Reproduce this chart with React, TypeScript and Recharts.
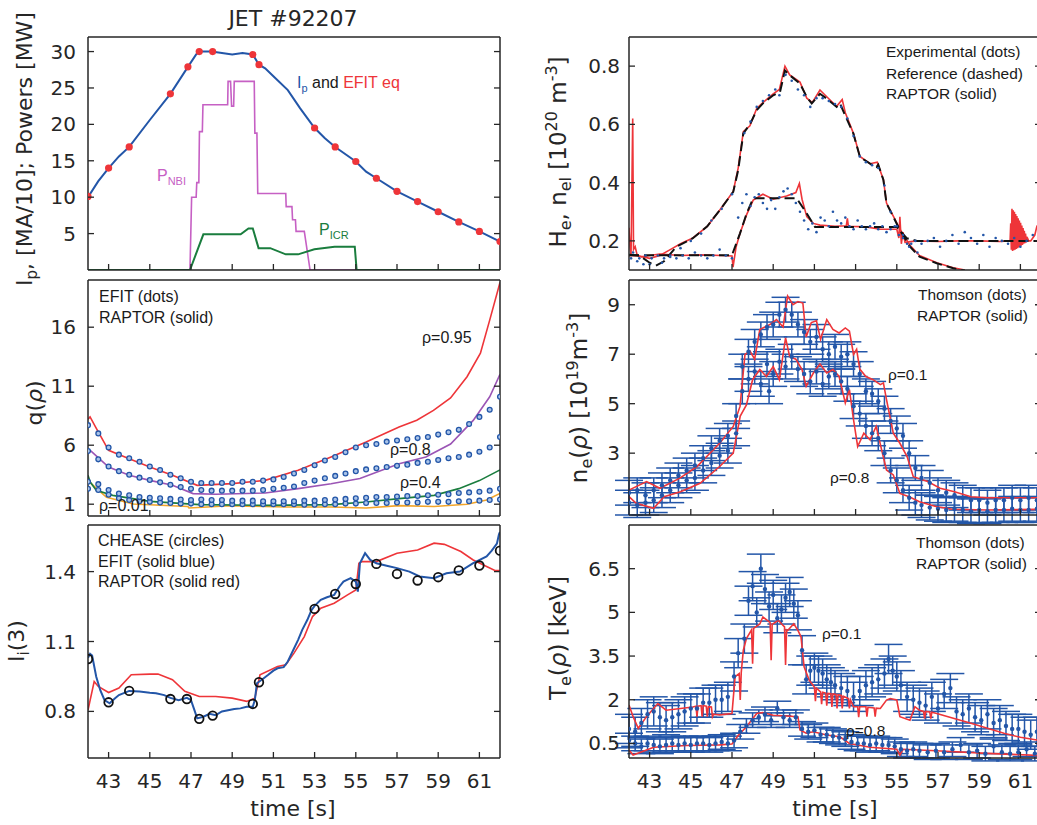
import React from 'react';
import { ComposedChart, Line, Scatter, XAxis, YAxis, ErrorBar } from 'recharts';

type P = [number, number];

const X_TICKS = [43, 45, 47, 49, 51, 53, 55, 57, 59, 61];
const T_RANGE: [number, number] = [42, 62];

const BLUE = '#2356a8';
const RED = '#ee3539';
const MAGENTA = '#c660c4';
const GREEN = '#1a7d3e';
const PURPLE = '#9b55b5';
const ORANGE = '#f2a52a';
const INK = '#262626';

// ---- Ip and powers
const IP_TICKS = [5, 10, 15, 20, 25, 30];
const IP: P[] = [[42, 10], [42.5, 12.2], [43, 14], [43.5, 15.6], [44, 16.9], [45, 20.6], [46, 24.2], [46.85, 27.9], [47.25, 29.6], [47.4, 30], [48, 30], [48.5, 29.8], [49, 29.6], [49.5, 29.8], [50, 29.6], [50.3, 28.2], [50.6, 27.7], [51, 26.6], [51.7, 24.7], [52.3, 22.2], [53, 19.5], [53.5, 18.1], [54, 16.9], [55, 14.9], [55.5, 13.5], [56, 12.6], [57, 10.8], [58, 9.4], [59, 8.0], [60, 6.6], [61, 5.3], [62, 3.9]];
const IP_EFIT: P[] = [[42, 10.1], [43, 14], [44, 16.9], [46, 24.2], [46.85, 27.9], [47.4, 30], [48.05, 30], [50, 29.6], [50.3, 28.2], [53, 19.5], [54, 16.9], [55, 14.9], [56, 12.6], [57, 10.8], [58, 9.4], [59, 8.0], [60, 6.6], [61, 5.3], [62, 3.9]];
const P_NBI: P[] = [[42, 0], [46.95, 0], [47.03, 10], [47.25, 10], [47.28, 12], [47.38, 12], [47.41, 19], [47.55, 19], [47.58, 22.7], [48.78, 22.7], [48.8, 25.9], [48.92, 25.9], [48.97, 22.5], [49.07, 22.5], [49.1, 25.9], [50.07, 25.9], [50.1, 18.8], [50.2, 18.8], [50.24, 10.5], [51.6, 10.5], [51.62, 8.7], [51.9, 8.7], [51.93, 6.9], [52.07, 6.9], [52.1, 5.3], [52.5, 5.3], [52.78, 0], [62, 0]];
const P_ICR: P[] = [[42, 0], [46.95, 0], [47.6, 4.9], [49.41, 4.9], [49.79, 5.7], [50.0, 5.7], [50.28, 3.0], [50.85, 3.0], [51.6, 2.15], [52.2, 2.15], [52.99, 2.84], [53.97, 3.2], [54.95, 3.2], [55.04, 0], [62, 0]];

// ---- q profiles
const Q_TICKS = [1, 6, 11, 16];
const Q95: P[] = [[42, 8.2], [42.1, 8.4], [42.37, 7.54], [43, 5.57], [44, 4.86], [45, 4.15], [46.1, 3.45], [47.3, 2.6], [49, 2.74], [50.6, 3.02], [52.2, 3.87], [53.8, 5.0], [55.5, 6.27], [57.1, 7.54], [57.96, 8.11], [58.77, 8.95], [59.6, 10.0], [60.4, 11.8], [61.05, 13.8], [61.5, 16.6], [62, 19.8]];
const Q80: P[] = [[42, 5.43], [42.15, 5.5], [42.4, 5.1], [43, 4.15], [44, 3.45], [45, 3.02], [46.1, 2.6], [47.1, 1.9], [48.2, 1.84], [50.6, 1.95], [52.2, 2.32], [53.8, 2.74], [55.2, 3.17], [57.1, 4.43], [58.4, 5.0], [59.6, 6.1], [60.7, 8.1], [61.5, 10.1], [62, 12.0]];
const Q40: P[] = [[42, 3.45], [42.1, 2.9], [42.4, 2.18], [43.2, 1.75], [45, 1.24], [47.4, 0.96], [50.6, 0.9], [53.8, 0.96], [55.5, 1.19], [57.1, 1.47], [58.8, 1.75], [60, 2.32], [61, 3.0], [62, 3.91]];
const Q01: P[] = [[42, 3.0], [42.37, 2.4], [42.9, 1.58], [44.2, 1.02], [46.85, 0.8], [46.9, 0.68], [48.9, 0.87], [51.6, 0.76], [53.8, 0.76], [55.5, 0.68], [57.1, 0.88], [58.8, 0.8], [60.4, 1.0], [61.35, 1.36], [62, 1.92]];
const Q_EFIT_T = [42, 42.5, 43, 43.5, 44, 44.5, 45, 45.5, 46, 46.5, 47, 47.5, 48, 48.5, 49, 49.5, 50, 50.5, 51, 51.5, 52, 52.5, 53, 53.5, 54, 54.5, 55, 55.5, 56, 56.5, 57, 57.5, 58, 58.5, 59, 59.5, 60, 60.5, 61, 61.5, 62];
const Q_EFIT_A = [7.7, 7.0, 5.8, 5.2, 4.9, 4.6, 4.2, 3.9, 3.5, 3.2, 2.9, 2.8, 2.8, 2.8, 2.8, 2.9, 2.9, 3.0, 3.1, 3.3, 3.6, 3.9, 4.3, 4.7, 5.0, 5.4, 5.8, 6.0, 6.1, 6.3, 6.4, 6.5, 6.6, 6.7, 6.9, 7.1, 7.3, 7.8, 8.4, 9.0, 10.1];
const Q_EFIT_B = [5.5, 4.8, 4.2, 3.8, 3.5, 3.25, 3.05, 2.85, 2.65, 2.45, 2.3, 2.2, 2.15, 2.15, 2.15, 2.15, 2.15, 2.2, 2.3, 2.4, 2.5, 2.8, 3.0, 3.2, 3.4, 3.6, 3.8, 3.95, 4.05, 4.15, 4.25, 4.35, 4.5, 4.6, 4.75, 4.9, 5.0, 5.2, 5.45, 5.8, 6.7];
const Q_EFIT_C = [2.9, 2.7, 2.2, 1.9, 1.75, 1.6, 1.55, 1.5, 1.45, 1.4, 1.35, 1.4, 1.35, 1.35, 1.3, 1.3, 1.3, 1.25, 1.25, 1.25, 1.25, 1.3, 1.3, 1.35, 1.4, 1.45, 1.5, 1.55, 1.6, 1.6, 1.65, 1.7, 1.7, 1.75, 1.8, 1.85, 1.95, 2.0, 2.05, 2.15, 2.3];
const Q_EFIT_D = [2.3, 2.2, 1.8, 1.5, 1.35, 1.25, 1.2, 1.15, 1.1, 1.05, 1.05, 1.0, 1.0, 1.0, 1.0, 1.0, 1.0, 1.0, 1.0, 1.0, 1.0, 0.95, 0.95, 1.0, 1.0, 1.05, 1.05, 1.1, 1.1, 1.1, 1.15, 1.15, 1.15, 1.2, 1.2, 1.2, 1.25, 1.25, 1.3, 1.35, 1.4];

// ---- internal inductance
const LI_TICKS = [0.8, 1.1, 1.4];
const LI_CHEASE: P[] = [[42, 1.025], [43, 0.839], [44, 0.888], [46, 0.853], [46.8, 0.853], [47.4, 0.768], [48.05, 0.782], [50, 0.832], [50.3, 0.925], [53, 1.24], [54, 1.304], [55, 1.347], [56, 1.433], [57, 1.39], [58, 1.362], [59, 1.376], [60, 1.405], [61, 1.426], [62, 1.49]];
const LI_EFIT: P[] = [[42, 1.03], [42.1, 1.047], [42.2, 1.04], [42.4, 0.949], [42.6, 0.89], [42.8, 0.849], [43.05, 0.835], [43.3, 0.855], [43.5, 0.87], [44, 0.888], [44.5, 0.885], [45, 0.88], [45.3, 0.878], [45.7, 0.87], [46, 0.858], [46.4, 0.848], [46.8, 0.858], [47, 0.848], [47.15, 0.81], [47.3, 0.77], [47.6, 0.777], [47.9, 0.79], [48.2, 0.784], [48.5, 0.8], [48.8, 0.805], [49.1, 0.81], [49.4, 0.813], [49.7, 0.82], [50, 0.82], [50.1, 0.85], [50.2, 0.921], [50.5, 0.94], [50.75, 0.957], [51.0, 0.975], [51.2, 0.985], [51.5, 0.99], [51.7, 1.014], [52.0, 1.07], [52.2, 1.107], [52.4, 1.15], [52.65, 1.193], [52.85, 1.235], [53.0, 1.253], [53.3, 1.279], [53.6, 1.29], [53.95, 1.3], [54.2, 1.335], [54.4, 1.357], [54.75, 1.372], [55.0, 1.357], [55.1, 1.314], [55.2, 1.436], [55.45, 1.479], [55.7, 1.45], [56.0, 1.436], [56.5, 1.425], [57, 1.415], [57.6, 1.4], [58.1, 1.379], [58.8, 1.372], [59.4, 1.393], [60.05, 1.4], [60.7, 1.436], [61.35, 1.465], [61.6, 1.49], [61.85, 1.52], [61.95, 1.56], [62, 1.57]];
const LI_RAPTOR: P[] = [[42, 0.806], [42.3, 0.928], [42.5, 0.907], [43, 0.881], [43.5, 0.9], [44.1, 0.957], [45, 0.96], [45.4, 0.96], [46.1, 0.936], [46.7, 0.886], [47.4, 0.864], [48.2, 0.864], [49, 0.857], [49.7, 0.843], [50.1, 0.857], [50.35, 0.957], [51.2, 0.993], [51.6, 1.0], [52, 1.05], [52.5, 1.121], [52.9, 1.207], [53.3, 1.243], [53.95, 1.264], [54.6, 1.3], [55, 1.321], [55.15, 1.436], [55.3, 1.443], [56.0, 1.443], [57, 1.479], [58, 1.493], [58.8, 1.522], [59.3, 1.517], [60.1, 1.486], [60.7, 1.45], [61.35, 1.422], [61.75, 1.405], [62, 1.405]];

// ---- line densities
const NEL_TICKS = [0.2, 0.4, 0.6, 0.8];
const NEL_REF: P[] = [[42, 0.152], [42.5, 0.15], [43, 0.125], [43.3, 0.115], [43.7, 0.13], [44.3, 0.18], [45.1, 0.209], [45.8, 0.25], [46.4, 0.305], [47.06, 0.368], [47.3, 0.443], [47.55, 0.569], [47.87, 0.6], [48.2, 0.649], [48.5, 0.672], [49.0, 0.7], [49.33, 0.711], [49.57, 0.785], [49.82, 0.768], [50.3, 0.74], [50.63, 0.694], [50.87, 0.672], [51.27, 0.705], [51.6, 0.688], [52.08, 0.66], [52.24, 0.672], [52.49, 0.631], [52.89, 0.569], [53.21, 0.488], [53.7, 0.465], [54.02, 0.454], [54.1, 0.462], [54.35, 0.409], [54.5, 0.329], [54.83, 0.283], [55.15, 0.237], [55.64, 0.18], [56.1, 0.146], [56.94, 0.123], [57.74, 0.106], [58.3, 0.098]];
const NEL_RAPTOR: P[] = [[42, 0.15], [42.5, 0.148], [43, 0.14], [43.5, 0.15], [44, 0.17], [44.5, 0.19], [45.1, 0.21], [45.8, 0.25], [46.4, 0.305], [47.06, 0.37], [47.3, 0.45], [47.55, 0.575], [47.87, 0.595], [48.2, 0.655], [48.5, 0.675], [49.0, 0.705], [49.3, 0.72], [49.57, 0.8], [49.8, 0.77], [50.3, 0.745], [50.63, 0.69], [50.9, 0.675], [51.27, 0.718], [51.6, 0.695], [52.08, 0.662], [52.35, 0.685], [52.5, 0.64], [52.89, 0.57], [53.21, 0.49], [53.7, 0.465], [54.05, 0.47], [54.35, 0.41], [54.5, 0.33], [54.83, 0.285], [55.15, 0.24], [55.64, 0.185], [56.1, 0.15], [56.94, 0.125], [57.74, 0.108], [58.3, 0.1]];
const HE_REF: P[] = [[42, 0.151], [47.0, 0.151], [47.39, 0.226], [47.71, 0.294], [48.03, 0.346], [50.14, 0.346], [50.63, 0.294], [51.03, 0.248], [55.0, 0.248], [55.48, 0.209], [55.97, 0.2], [62, 0.2]];
const HE_RAPTOR: P[] = [[42, 0.245], [42.05, 0.18], [42.1, 0.15], [42.18, 0.62], [42.22, 0.17], [42.3, 0.18], [42.4, 0.15], [42.6, 0.145], [43, 0.15], [43.5, 0.155], [44.5, 0.15], [45.5, 0.152], [46.5, 0.15], [47.0, 0.148], [47.05, 0.11], [47.2, 0.18], [47.39, 0.226], [47.71, 0.29], [48.03, 0.34], [48.5, 0.36], [49.0, 0.343], [49.65, 0.354], [50.1, 0.366], [50.27, 0.397], [50.4, 0.343], [50.63, 0.283], [50.95, 0.26], [51.27, 0.254], [52.0, 0.25], [52.55, 0.252], [52.6, 0.277], [52.65, 0.25], [53.5, 0.248], [54.2, 0.24], [55.0, 0.24], [55.1, 0.21], [55.15, 0.283], [55.22, 0.19], [55.3, 0.23], [55.4, 0.195], [55.97, 0.2], [57, 0.198], [58, 0.2], [59, 0.2], [60, 0.198], [60.45, 0.2], [60.5, 0.2], [60.53, 0.26], [60.56, 0.17], [60.59, 0.31], [60.62, 0.165], [60.65, 0.305], [60.68, 0.168], [60.71, 0.3], [60.74, 0.17], [60.77, 0.292], [60.8, 0.172], [60.83, 0.285], [60.86, 0.175], [60.89, 0.278], [60.92, 0.177], [60.95, 0.27], [60.98, 0.18], [61.01, 0.262], [61.04, 0.183], [61.07, 0.253], [61.1, 0.186], [61.13, 0.244], [61.16, 0.19], [61.19, 0.235], [61.22, 0.192], [61.25, 0.225], [61.28, 0.195], [61.31, 0.215], [61.34, 0.198], [61.37, 0.205], [61.4, 0.2], [61.5, 0.2], [61.7, 0.22], [61.8, 0.25], [62, 0.27]];
const NEL_DOTS: P[] = [[42.1, 0.14], [42.4, 0.13], [42.7, 0.12], [43.0, 0.12], [43.6, 0.125], [44.0, 0.15], [44.5, 0.175], [45.0, 0.2], [45.5, 0.225], [46.0, 0.27], [46.5, 0.31], [47.0, 0.36], [47.6, 0.57], [47.9, 0.61], [48.2, 0.66], [48.5, 0.68], [48.8, 0.7], [49.1, 0.72], [49.3, 0.7], [49.6, 0.77], [49.9, 0.75], [50.2, 0.72], [50.5, 0.7], [50.8, 0.66], [51.1, 0.69], [51.4, 0.69], [51.7, 0.68], [52.0, 0.67], [52.3, 0.66], [52.6, 0.62], [52.9, 0.56], [53.2, 0.49], [53.5, 0.47], [53.8, 0.46], [54.1, 0.45], [54.4, 0.39], [54.7, 0.3], [55.0, 0.25], [55.3, 0.22], [55.6, 0.18], [56.0, 0.16]];
const HE_DOTS: P[] = [[42.2, 0.16], [42.5, 0.14], [42.8, 0.15], [43.1, 0.14], [43.4, 0.15], [43.7, 0.14], [44.0, 0.145], [44.3, 0.14], [44.6, 0.15], [44.9, 0.14], [45.2, 0.16], [45.5, 0.15], [45.8, 0.14], [46.1, 0.15], [46.4, 0.17], [46.7, 0.15], [47.0, 0.14], [47.3, 0.28], [47.5, 0.33], [47.7, 0.36], [47.9, 0.32], [48.1, 0.35], [48.3, 0.36], [48.5, 0.33], [48.7, 0.31], [48.9, 0.34], [49.1, 0.31], [49.3, 0.35], [49.5, 0.37], [49.7, 0.38], [49.9, 0.36], [50.1, 0.33], [50.3, 0.3], [50.5, 0.27], [50.7, 0.24], [50.9, 0.26], [51.1, 0.23], [51.3, 0.28], [51.5, 0.27], [51.7, 0.25], [51.9, 0.3], [52.1, 0.27], [52.3, 0.26], [52.5, 0.28], [52.7, 0.25], [52.9, 0.24], [53.1, 0.27], [53.3, 0.25], [53.5, 0.24], [53.7, 0.25], [53.9, 0.26], [54.1, 0.24], [54.3, 0.25], [54.5, 0.23], [54.7, 0.24], [54.9, 0.25], [55.1, 0.22], [55.3, 0.21], [55.5, 0.19], [55.7, 0.19], [55.9, 0.2], [56.2, 0.19], [56.5, 0.2], [56.8, 0.21], [57.1, 0.18], [57.4, 0.2], [57.7, 0.22], [58.0, 0.19], [58.3, 0.23], [58.6, 0.21], [58.9, 0.19], [59.2, 0.22], [59.5, 0.18], [59.8, 0.21], [60.1, 0.2], [60.4, 0.19], [60.7, 0.21], [61.0, 0.18], [61.3, 0.2], [61.6, 0.22], [61.9, 0.19]];

// ---- ne profiles
const NE_TICKS = [3, 5, 7, 9];
const NE_ERR = 0.5;
const NE_RAPTOR_01: P[] = [[42, 1.51], [42.85, 1.85], [43.5, 1.58], [44.47, 1.99], [45.3, 2.46], [46.4, 3.4], [47.06, 4.08], [47.39, 4.89], [47.63, 6.99], [47.87, 7.13], [48.1, 6.8], [48.35, 8.0], [48.84, 8.2], [49.16, 8.4], [49.48, 8.1], [49.7, 9.35], [49.96, 9.0], [50.2, 9.13], [50.44, 9.07], [50.6, 7.7], [50.85, 8.28], [51.1, 8.35], [51.3, 7.6], [51.6, 8.4], [51.9, 8.0], [52.2, 7.86], [52.5, 8.06], [52.7, 7.93], [52.9, 6.99], [53.05, 7.2], [53.2, 6.4], [53.5, 6.1], [53.85, 5.97], [54.2, 5.77], [54.35, 5.84], [54.5, 5.16], [54.83, 3.81], [55.15, 3.4], [55.5, 2.86], [55.8, 2.05], [56.5, 1.85], [57.1, 1.58], [57.8, 1.44], [58.6, 1.24], [59.4, 1.2], [62, 1.2]];
const NE_RAPTOR_08: P[] = [[42, 1.24], [42.35, 0.97], [43.2, 0.77], [43.7, 1.24], [44.5, 1.44], [45.45, 1.78], [46.4, 2.46], [47.06, 3.0], [47.4, 4.5], [47.7, 4.95], [48.0, 5.97], [48.35, 6.38], [48.67, 6.1], [49.0, 6.5], [49.3, 5.97], [49.6, 7.66], [49.8, 6.9], [50.1, 6.8], [50.4, 6.38], [50.6, 5.7], [50.95, 6.24], [51.27, 6.6], [51.6, 6.24], [51.9, 6.38], [52.2, 6.1], [52.5, 5.03], [52.7, 5.57], [52.9, 4.35], [53.1, 3.27], [53.4, 3.81], [53.7, 3.54], [54.0, 4.08], [54.3, 3.0], [54.5, 2.32], [54.83, 2.12], [55.15, 1.37], [55.6, 1.24], [56.1, 1.04], [56.9, 0.84], [57.7, 0.73], [59.4, 0.7], [62, 0.73]];
const NE_THOMSON_01: P[] = [[42.0, 1.4], [42.4, 1.5], [42.8, 1.3], [43.2, 1.5], [43.6, 1.7], [44.0, 1.9], [44.4, 2.1], [44.8, 2.3], [45.2, 2.5], [45.6, 2.8], [46.0, 3.2], [46.4, 3.5], [46.8, 3.7], [47.2, 4.5], [47.5, 6.5], [47.8, 7.1], [48.1, 7.5], [48.4, 7.8], [48.7, 8.1], [49.0, 8.2], [49.3, 8.6], [49.6, 8.8], [49.9, 8.6], [50.2, 8.2], [50.5, 7.9], [50.8, 7.5], [51.1, 7.7], [51.4, 7.2], [51.7, 7.0], [52.0, 7.3], [52.3, 6.9], [52.6, 7.0], [52.9, 6.6], [53.2, 6.2], [53.5, 5.5], [53.8, 5.4], [54.1, 5.1], [54.4, 4.8], [54.7, 4.3], [55.0, 4.0], [55.3, 3.7], [55.6, 3.0], [55.9, 2.4], [56.2, 2.0], [56.6, 1.8], [57.0, 1.5], [57.4, 1.4], [57.8, 1.3], [58.2, 1.2], [58.6, 1.1], [59.0, 1.1], [59.4, 1.0], [59.8, 1.1], [60.2, 1.1], [60.6, 1.2], [61.0, 1.1], [61.4, 1.2], [61.8, 1.1]];
const NE_THOMSON_08: P[] = [[42.0, 1.0], [42.4, 0.9], [42.8, 1.0], [43.2, 1.1], [43.6, 1.3], [44.0, 1.5], [44.4, 1.7], [44.8, 1.9], [45.2, 2.0], [45.6, 2.3], [46.0, 2.6], [46.4, 2.9], [46.8, 3.1], [47.2, 3.8], [47.5, 5.5], [47.8, 6.0], [48.1, 6.3], [48.4, 5.8], [48.7, 6.6], [48.8, 5.5], [49.0, 6.2], [49.3, 6.7], [49.6, 6.5], [49.9, 6.9], [50.2, 6.4], [50.5, 6.2], [50.8, 5.9], [51.1, 6.3], [51.4, 5.8], [51.7, 6.1], [52.0, 6.2], [52.3, 5.9], [52.6, 5.6], [52.9, 4.9], [53.2, 4.6], [53.5, 4.1], [53.8, 3.8], [54.1, 3.6], [54.4, 3.0], [54.7, 2.3], [55.0, 1.9], [55.3, 1.5], [55.6, 1.2], [55.9, 1.0], [56.2, 0.9], [56.6, 0.8], [57.0, 0.75], [57.4, 0.7], [57.8, 0.75], [58.2, 0.7], [58.6, 0.65], [59.0, 0.7], [59.4, 0.65], [59.8, 0.7], [60.2, 0.7], [60.6, 0.75], [61.0, 0.7], [61.4, 0.7], [61.8, 0.75]];

// ---- Te profiles
const TE_TICKS = [0.5, 2, 3.5, 5, 6.5];
const TE_ERR_01 = 0.5;
const TE_ERR_08 = 0.25;
const TE_RAPTOR_01: P[] = [[42, 1.82], [42.2, 1.42], [42.45, 1.02], [42.85, 1.42], [43.4, 1.87], [43.8, 1.64], [44.5, 1.7], [45.1, 1.75], [45.25, 1.78], [45.3, 1.42], [45.35, 1.78], [45.5, 1.8], [45.55, 1.42], [45.6, 1.8], [45.75, 1.78], [45.8, 1.42], [45.85, 1.76], [46.0, 1.75], [46.05, 1.42], [46.1, 1.5], [46.4, 1.48], [47.0, 1.53], [47.15, 2.79], [47.35, 2.9], [47.4, 1.99], [47.45, 2.95], [47.55, 3.7], [47.7, 4.1], [47.95, 4.4], [48.0, 3.24], [48.05, 4.45], [48.35, 4.6], [48.5, 4.84], [48.7, 4.73], [48.85, 4.65], [48.9, 3.36], [48.95, 4.6], [49.0, 4.61], [49.25, 4.73], [49.4, 4.61], [49.55, 4.5], [49.6, 3.19], [49.65, 4.4], [49.7, 4.38], [50.0, 4.61], [50.2, 4.38], [50.35, 4.16], [50.5, 3.13], [50.75, 2.67], [51.0, 2.44], [51.05, 1.95], [51.1, 2.4], [51.3, 2.27], [51.35, 1.85], [51.4, 2.26], [51.55, 2.23], [51.6, 1.8], [51.65, 2.22], [51.8, 2.21], [51.85, 1.75], [51.9, 2.2], [52.05, 2.18], [52.1, 1.7], [52.15, 2.17], [52.3, 2.15], [52.35, 1.7], [52.4, 2.12], [52.65, 2.04], [52.7, 1.7], [52.75, 2.0], [52.9, 1.76], [53.1, 1.76], [53.15, 1.4], [53.2, 1.76], [53.5, 1.76], [53.55, 1.42], [53.6, 1.74], [53.9, 1.72], [53.95, 1.42], [54.0, 1.71], [54.2, 1.7], [54.5, 1.99], [54.68, 2.04], [55.0, 1.99], [55.15, 1.42], [55.64, 1.3], [55.88, 1.76], [56.1, 1.64], [56.3, 1.6], [56.35, 1.35], [56.4, 1.6], [56.6, 1.58], [56.65, 1.35], [56.7, 1.57], [56.94, 1.53], [57.7, 1.37], [58.6, 1.19], [59.4, 1.02], [60.2, 0.85], [61.0, 0.71], [61.8, 0.62], [62, 0.6]];
const TE_RAPTOR_08: P[] = [[42, 0.27], [42.2, 0.1], [43.2, 0.37], [44.8, 0.43], [46.4, 0.45], [47.0, 0.48], [47.3, 0.77], [47.7, 1.07], [48.2, 1.53], [48.5, 1.56], [49.0, 1.47], [49.65, 1.44], [50.2, 1.42], [50.3, 0.96], [50.6, 0.85], [50.95, 0.9], [51.6, 0.79], [52.24, 0.73], [52.7, 0.5], [53.7, 0.37], [55.0, 0.3], [55.15, 0.1], [55.3, 0.3], [56.9, 0.25], [59.4, 0.16], [61.8, 0.09], [62, 0.09]];
const TE_THOMSON_01: P[] = [[42.0, 1.0], [42.3, 0.9], [42.6, 1.2], [42.9, 1.5], [43.2, 1.6], [43.5, 1.4], [43.8, 1.3], [44.1, 1.4], [44.4, 1.5], [44.7, 1.6], [45.0, 1.7], [45.3, 1.7], [45.6, 1.9], [45.9, 1.9], [46.2, 2.0], [46.5, 2.0], [46.8, 2.1], [47.1, 2.8], [47.3, 3.6], [47.6, 4.1], [47.8, 5.4], [48.0, 5.9], [48.2, 5.0], [48.4, 6.5], [48.6, 5.8], [48.8, 5.2], [49.0, 5.6], [49.2, 4.8], [49.4, 5.1], [49.6, 5.5], [49.8, 5.7], [50.0, 5.3], [50.2, 4.9], [50.4, 3.7], [50.6, 2.7], [50.8, 3.0], [51.0, 3.1], [51.2, 3.0], [51.4, 2.9], [51.6, 2.7], [51.8, 2.6], [52.0, 2.5], [52.3, 2.4], [52.6, 2.3], [52.9, 2.1], [53.2, 2.3], [53.5, 2.5], [53.8, 2.6], [54.1, 2.7], [54.4, 2.9], [54.6, 3.4], [54.8, 3.0], [55.0, 2.8], [55.2, 2.5], [55.5, 2.1], [55.8, 2.0], [56.1, 1.9], [56.4, 1.8], [56.7, 2.1], [57.0, 1.7], [57.3, 2.2], [57.6, 2.4], [57.9, 1.6], [58.2, 1.5], [58.5, 1.7], [58.8, 1.4], [59.1, 1.3], [59.4, 1.5], [59.7, 1.2], [60.0, 1.3], [60.3, 1.1], [60.6, 1.0], [60.9, 1.0], [61.2, 0.9], [61.5, 0.8], [61.8, 0.9]];
const TE_THOMSON_08: P[] = [[42.0, 0.6], [42.3, 0.5], [42.6, 0.4], [42.9, 0.5], [43.2, 0.45], [43.5, 0.4], [43.8, 0.45], [44.1, 0.5], [44.4, 0.45], [44.7, 0.5], [45.0, 0.45], [45.3, 0.5], [45.6, 0.5], [45.9, 0.45], [46.2, 0.5], [46.5, 0.55], [46.8, 0.5], [47.1, 0.6], [47.4, 0.9], [47.7, 1.1], [48.0, 1.3], [48.3, 1.4], [48.6, 1.5], [48.9, 1.3], [49.2, 1.7], [49.5, 1.4], [49.8, 1.3], [50.1, 1.4], [50.4, 1.0], [50.7, 0.9], [51.0, 0.95], [51.3, 0.8], [51.6, 0.8], [51.9, 0.75], [52.2, 0.7], [52.5, 0.65], [52.8, 0.55], [53.1, 0.5], [53.4, 0.5], [53.7, 0.45], [54.0, 0.5], [54.3, 0.45], [54.6, 0.45], [54.9, 0.4], [55.2, 0.3], [55.5, 0.25], [55.8, 0.3], [56.1, 0.25], [56.5, 0.2], [56.9, 0.25], [57.3, 0.2], [57.7, 0.3], [58.1, 0.45], [58.5, 0.2], [58.9, 0.25], [59.3, 0.15], [59.7, 0.4], [60.1, 0.2], [60.5, 0.15], [60.9, 0.2], [61.3, 0.3], [61.7, 0.15]];

const rows = (pts: P[]) => pts.map(([t, v]) => ({ t, v }));
const rowsErr = (pts: P[], e: number) => pts.map(([t, v]) => ({ t, v, e }));
const zipRows = (ts: number[], vs: number[]) => ts.map((t, i) => ({ t, v: vs[i] }));

const AXIS = { stroke: INK, strokeWidth: 1.5 };
const PLOT_W = 412;
const TICK_LEN = 6;
const TICK_FONT = { fontSize: 20, fontFamily: 'DejaVu Sans', fill: INK };

// axis ticks point into the plot, so each tick draws its own short line plus (optionally) the label
type Side = 'top' | 'bottom' | 'left' | 'right';
const tickMark = (side: Side, withLabel: boolean, gap = 12) => (p: any) => {
  const { x, y } = p;
  const value = p.payload.value;
  if (side === 'top' || side === 'bottom') {
    const d = side === 'bottom' ? -TICK_LEN : TICK_LEN;
    return (
      <g>
        <line x1={x} x2={x} y1={y} y2={y + d} stroke={INK} strokeWidth={1.3} />
        {withLabel && <text x={x} y={y + 30} textAnchor="middle" {...TICK_FONT}>{value}</text>}
      </g>
    );
  }
  const d = side === 'left' ? TICK_LEN : -TICK_LEN;
  return (
    <g>
      <line x1={x} x2={x + d} y1={y} y2={y} stroke={INK} strokeWidth={1.3} />
      {withLabel && <text x={x - gap} y={y + 7} textAnchor="end" {...TICK_FONT}>{value}</text>}
    </g>
  );
};

type PanelProps = {
  left: number;
  top: number;
  h: number;
  yDomain: [number, number];
  yTicks: number[];
  yGap: number;
  xLabels?: boolean;
  children: React.ReactNode;
};

function Panel({ left, top, h, yDomain, yTicks, yGap, xLabels, children }: PanelProps) {
  return (
    <div style={{ position: 'absolute', left: left - 110, top: top - 10 }}>
      <ComposedChart width={PLOT_W + 130} height={h + 60} margin={{ top: 9, right: 19, bottom: 10, left: 50 }}>
        <XAxis dataKey="t" type="number" domain={T_RANGE} ticks={X_TICKS} interval={0} allowDataOverflow
          height={40} tickSize={0} tickMargin={0} axisLine={AXIS} tickLine={false}
          tick={tickMark('bottom', !!xLabels)} />
        <XAxis xAxisId="top" orientation="top" type="number" domain={T_RANGE} ticks={X_TICKS} interval={0}
          allowDataOverflow height={1} tickSize={0} tickMargin={0} axisLine={AXIS} tickLine={false}
          tick={tickMark('top', false)} />
        <YAxis dataKey="v" type="number" domain={yDomain} ticks={yTicks} interval={0} allowDataOverflow
          width={60} tickSize={0} tickMargin={0} axisLine={AXIS} tickLine={false} tick={tickMark('left', true, yGap)} />
        <YAxis yAxisId="r" orientation="right" type="number" domain={yDomain} ticks={yTicks} interval={0}
          allowDataOverflow width={1} tickSize={0} tickMargin={0} axisLine={AXIS} tickLine={false}
          tick={tickMark('right', false)} />
        {children}
      </ComposedChart>
    </div>
  );
}

const dot = (r: number, fill: string, stroke = 'none', sw = 0) => (p: any) =>
  <circle cx={p.cx} cy={p.cy} r={r} fill={fill} stroke={stroke} strokeWidth={sw} />;

const line = (pts: P[], color: string, width = 1.6, dash?: string) => (
  <Line data={rows(pts)} dataKey="v" stroke={color} strokeWidth={width} strokeDasharray={dash} dot={false}
    isAnimationActive={false} />
);

const SANS = 'Liberation Sans';
const LABEL = 'DejaVu Sans';

export default function App() {
  return (
    <div style={{ position: 'fixed', left: 0, top: 0, width: 1037, height: 825, overflow: 'hidden', background: '#fff' }}>
      {/* Ip and heating powers */}
      <Panel left={88} top={37} h={233} yDomain={[0, 32]} yTicks={IP_TICKS} yGap={12}>
        {line(P_NBI, MAGENTA, 1.6)}
        {line(P_ICR, GREEN, 2)}
        {line(IP, BLUE, 2)}
        <Scatter data={rows(IP_EFIT)} dataKey="v" shape={dot(3.6, RED)} isAnimationActive={false} />
      </Panel>

      {/* q profiles */}
      <Panel left={88} top={280} h={236} yDomain={[0, 20]} yTicks={Q_TICKS} yGap={12}>
        {line(Q01, ORANGE, 1.6)}
        {line(Q40, GREEN, 1.6)}
        {line(Q80, PURPLE, 1.6)}
        {line(Q95, RED, 1.6)}
        <Scatter data={zipRows(Q_EFIT_T, Q_EFIT_D)} dataKey="v" shape={dot(2.4, '#a9c3e8', BLUE, 1.3)} isAnimationActive={false} />
        <Scatter data={zipRows(Q_EFIT_T, Q_EFIT_C)} dataKey="v" shape={dot(2.4, '#a9c3e8', BLUE, 1.3)} isAnimationActive={false} />
        <Scatter data={zipRows(Q_EFIT_T, Q_EFIT_B)} dataKey="v" shape={dot(2.4, '#a9c3e8', BLUE, 1.3)} isAnimationActive={false} />
        <Scatter data={zipRows(Q_EFIT_T, Q_EFIT_A)} dataKey="v" shape={dot(2.4, '#a9c3e8', BLUE, 1.3)} isAnimationActive={false} />
      </Panel>

      {/* internal inductance */}
      <Panel left={88} top={525} h={233} yDomain={[0.6, 1.6]} yTicks={LI_TICKS} yGap={12} xLabels>
        {line(LI_RAPTOR, RED, 1.6)}
        {line(LI_EFIT, BLUE, 2)}
        <Scatter data={rows(LI_CHEASE)} dataKey="v" shape={dot(4.3, 'none', '#111', 1.8)} isAnimationActive={false} />
      </Panel>

      {/* line-integrated densities */}
      <Panel left={629} top={37} h={233} yDomain={[0.1, 0.9]} yTicks={NEL_TICKS} yGap={9}>
        <Scatter data={rows(NEL_DOTS)} dataKey="v" shape={dot(1.3, BLUE)} isAnimationActive={false} />
        <Scatter data={rows(HE_DOTS)} dataKey="v" shape={dot(1.3, BLUE)} isAnimationActive={false} />
        {line(NEL_RAPTOR, RED, 1.6)}
        {line(HE_RAPTOR, RED, 1.6)}
        {line(NEL_REF, '#111', 2, '10 5')}
        {line(HE_REF, '#111', 2, '10 5')}
      </Panel>

      {/* ne */}
      <Panel left={629} top={280} h={235} yDomain={[0.5, 10]} yTicks={NE_TICKS} yGap={9}>
        <Scatter data={rowsErr(NE_THOMSON_08, NE_ERR)} dataKey="v" shape={dot(2.2, BLUE)} isAnimationActive={false}>
          <ErrorBar dataKey="e" direction="y" width={14} stroke={BLUE} strokeWidth={1.5} />
        </Scatter>
        <Scatter data={rowsErr(NE_THOMSON_01, NE_ERR)} dataKey="v" shape={dot(2.2, BLUE)} isAnimationActive={false}>
          <ErrorBar dataKey="e" direction="y" width={14} stroke={BLUE} strokeWidth={1.5} />
        </Scatter>
        {line(NE_RAPTOR_08, RED, 1.6)}
        {line(NE_RAPTOR_01, RED, 1.6)}
      </Panel>

      {/* Te */}
      <Panel left={629} top={525} h={233} yDomain={[0, 8]} yTicks={TE_TICKS} yGap={9} xLabels>
        <Scatter data={rowsErr(TE_THOMSON_08, TE_ERR_08)} dataKey="v" shape={dot(2.2, BLUE)} isAnimationActive={false}>
          <ErrorBar dataKey="e" direction="y" width={14} stroke={BLUE} strokeWidth={1.5} />
        </Scatter>
        <Scatter data={rowsErr(TE_THOMSON_01, TE_ERR_01)} dataKey="v" shape={dot(2.2, BLUE)} isAnimationActive={false}>
          <ErrorBar dataKey="e" direction="y" width={14} stroke={BLUE} strokeWidth={1.5} />
        </Scatter>
        {line(TE_RAPTOR_08, RED, 1.6)}
        {line(TE_RAPTOR_01, RED, 1.6)}
      </Panel>

      <svg width={1037} height={825} style={{ position: 'absolute', left: 0, top: 0, pointerEvents: 'none' }}>
        <g fontFamily={LABEL} fill={INK}>
          <text x={293} y={26} fontSize={22} textAnchor="middle">JET #92207</text>
          <text x={293} y={816} fontSize={22} textAnchor="middle">time [s]</text>
          <text x={835} y={816} fontSize={22} textAnchor="middle">time [s]</text>

          <text transform="translate(32,149) rotate(-90)" fontSize={22} textAnchor="middle">
            I<tspan dy={5} fontSize={15}>p</tspan><tspan dy={-5}>, [MA/10]; Powers [MW]</tspan>
          </text>
          <text transform="translate(42,403) rotate(-90)" fontSize={22} textAnchor="middle">
            q(<tspan fontStyle="italic">ρ</tspan>)
          </text>
          <text transform="translate(24,641) rotate(-90)" fontSize={22} textAnchor="middle">
            I<tspan dy={5} fontSize={15}>i</tspan><tspan dy={-5}>(3)</tspan>
          </text>

          <text transform="translate(566,152) rotate(-90)" fontSize={23} textAnchor="middle">
            H<tspan dy={5} fontSize={16}>e</tspan><tspan dy={-5}>, n</tspan><tspan dy={5} fontSize={16}>el</tspan>
            <tspan dy={-5}> [10</tspan><tspan dy={-9} fontSize={16}>20</tspan><tspan dy={9}> m</tspan>
            <tspan dy={-9} fontSize={16}>-3</tspan><tspan dy={9}>]</tspan>
          </text>
          <text transform="translate(587,398) rotate(-90)" fontSize={23} textAnchor="middle">
            n<tspan dy={5} fontSize={16}>e</tspan><tspan dy={-5}>(</tspan><tspan fontStyle="italic">ρ</tspan>
            <tspan>) [10</tspan><tspan dy={-9} fontSize={16}>19</tspan><tspan dy={9}>m</tspan>
            <tspan dy={-9} fontSize={16}>-3</tspan><tspan dy={9}>]</tspan>
          </text>
          <text transform="translate(566,638) rotate(-90)" fontSize={23} textAnchor="middle">
            T<tspan dy={5} fontSize={16}>e</tspan><tspan dy={-5}>(</tspan><tspan fontStyle="italic">ρ</tspan>
            <tspan>) [keV]</tspan>
          </text>
        </g>

        <g fontFamily={SANS} fontSize={16} fill="#1a1a1a">
          <text x={297} y={88}>
            <tspan fill={BLUE}>I</tspan><tspan fill={BLUE} dy={4} fontSize={11}>p</tspan>
            <tspan dy={-4}> and </tspan><tspan fill={RED}>EFIT eq</tspan>
          </text>
          <text x={157} y={181} fill={MAGENTA}>P<tspan dy={4} fontSize={11}>NBI</tspan></text>
          <text x={319} y={235} fill={GREEN}>P<tspan dy={4} fontSize={11}>ICR</tspan></text>

          <text x={99} y={302}>EFIT (dots)</text>
          <text x={99} y={323}>RAPTOR (solid)</text>
          <text x={422} y={343}>ρ=0.95</text>
          <text x={390} y={455}>ρ=0.8</text>
          <text x={400} y={488}>ρ=0.4</text>
          <text x={99} y={511}>ρ=0.01</text>

          <text x={98} y={546}>CHEASE (circles)</text>
          <text x={98} y={567}>EFIT (solid blue)</text>
          <text x={98} y={587}>RAPTOR (solid red)</text>
        </g>

        <g fontFamily={SANS} fontSize={15.5} fill="#1a1a1a">
          <text x={886} y={57}>Experimental (dots)</text>
          <text x={886} y={79}>Reference (dashed)</text>
          <text x={886} y={99}>RAPTOR (solid)</text>

          <text x={918} y={300}>Thomson (dots)</text>
          <text x={917} y={321}>RAPTOR (solid)</text>
          <text x={888} y={380}>ρ=0.1</text>
          <text x={830} y={483}>ρ=0.8</text>

          <text x={916} y={548}>Thomson (dots)</text>
          <text x={916} y={569}>RAPTOR (solid)</text>
          <text x={822} y={639}>ρ=0.1</text>
          <text x={846} y={736}>ρ=0.8</text>
        </g>
      </svg>
    </div>
  );
}
